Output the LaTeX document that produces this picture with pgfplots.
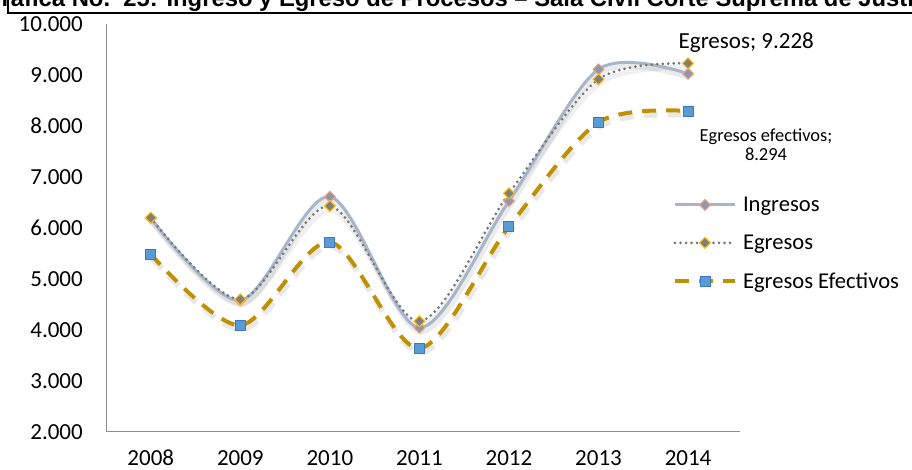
\documentclass[border=0pt]{standalone}
\usepackage{pgfplots}
\pgfplotsset{compat=1.18}
\usepackage{fontspec}
\setmainfont{Carlito}
\newfontfamily\titlefont{Liberation Sans}
\definecolor{ingline}{HTML}{A7B5CB}
\definecolor{ingfill}{HTML}{8A99B2}
\definecolor{ingedge}{HTML}{F4A07A}
\definecolor{egline}{HTML}{767676}
\definecolor{egfill}{HTML}{7F7F7F}
\definecolor{egedge}{HTML}{FFC000}
\definecolor{efline}{HTML}{BF9000}
\definecolor{effill}{HTML}{5B9BD5}
\definecolor{efedge}{HTML}{3A78C0}
\pgfplotstableread{
year ing eg ef
2008 6190 6202 5484
2009 4580 4602 4092
2010 6614 6431 5725
2011 4045 4171 3641
2012 6529 6680 6025
2013 9112 8916 8073
2014 9025 9228 8294
}\datatable
\begin{document}
\begin{tikzpicture}[x=1pt,y=1pt]
\path[use as bounding box] (0,0) rectangle (912,470);
\clip (0,0) rectangle (912,470);
\node[anchor=base west, inner sep=0pt, font=\titlefont\bfseries\fontsize{23.8}{28}\selectfont] at (-17,463) {Gráfica No.\ \ 25: Ingreso y Egreso de Procesos – Sala Civil Corte Suprema de Justicia};
\draw[line width=2pt] (8,470) -- (8,457) -- (912,457);
\begin{axis}[
  scale only axis, width=634pt, height=408pt,
  at={(106pt,38pt)}, anchor=south west,
  xmin=2007.5, xmax=2014.58, ymin=2000, ymax=10000,
  axis x line*=bottom, axis y line*=left,
  axis line style={draw=black!45, line width=1pt, -},
  xtick={2008,2009,2010,2011,2012,2013,2014},
  ytick={2000,3000,4000,5000,6000,7000,8000,9000,10000},
  major tick length=0pt,
  scaled y ticks=false, scaled x ticks=false,
  /pgf/number format/assume math mode=true,
  x tick label style={/pgf/number format/1000 sep={}},
  y tick label style={/pgf/number format/1000 sep={.}},
  tick label style={font=\fontsize{23}{27}\selectfont, text=black},
  xticklabel style={anchor=base, yshift=-34pt},
  yticklabel style={anchor=east, inner sep=0pt, xshift=-23pt},
  clip=false,
  legend style={draw=none, fill=none, inner sep=0pt, row sep=22pt,
    at={(0.894,0.462)}, anchor=west,
    font=\fontsize{22.6}{27}\selectfont,
    nodes={inner sep=0pt},
    /tikz/every odd column/.append style={column sep=6pt}},
  legend cell align=left,
  legend image code/.code={\draw[mark repeat=2, mark phase=2, #1] plot coordinates {(0pt,0pt) (30pt,0pt) (60pt,0pt)};},
]
% soft shadows
\addplot[forget plot, smooth, tension=0.5, draw=black, opacity=0.08, line width=5pt,
  xshift=1.5pt, yshift=-4pt] table[x=year,y=ing] {\datatable};
\addplot[forget plot, smooth, tension=0.5, draw=black, opacity=0.06, line width=5pt,
  xshift=1.5pt, yshift=-4pt] table[x=year,y=eg] {\datatable};
\addplot[forget plot, smooth, tension=0.5, draw=black, opacity=0.09, line width=6pt,
  dash pattern=on 14pt off 10pt, xshift=1.5pt, yshift=-4pt] table[x=year,y=ef] {\datatable};
\addplot[smooth, tension=0.5, color=ingline, line width=3pt,
  mark=diamond*, mark size=5.5pt,
  mark options={solid, fill=ingfill, draw=ingedge, line width=1pt, xscale=1.33}]
  table[x=year,y=ing] {\datatable};
\addlegendentry{Ingresos}
\addplot[smooth, tension=0.5, color=egline, line width=3pt, line cap=round,
  dash pattern=on 0pt off 5.5pt,
  mark=diamond*, mark size=5.5pt,
  mark options={solid, fill=egfill, draw=egedge, line width=1pt, xscale=1.33}]
  table[x=year,y=eg] {\datatable};
\addlegendentry{Egresos}
\addplot[smooth, tension=0.5, color=efline, line width=4pt,
  dash pattern=on 14pt off 10pt,
  mark=square*, mark size=5pt,
  mark options={solid, fill=effill, draw=efedge, line width=1pt}]
  table[x=year,y=ef] {\datatable};
\addlegendentry{Egresos Efectivos}
\node[anchor=base, inner sep=0pt, font=\fontsize{23}{27}\selectfont] at (axis cs:2014.65,9524) {Egresos; 9.228};
\node[anchor=base, inner sep=0pt, align=center, font=\fontsize{18.4}{19}\selectfont] at (axis cs:2014.87,7320) {Egresos efectivos;\\8.294};
\end{axis}
\end{tikzpicture}
\end{document}
